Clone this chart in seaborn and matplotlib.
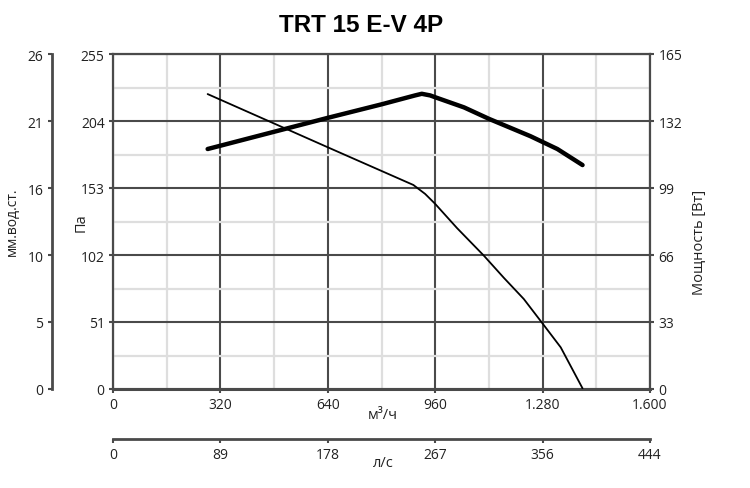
import numpy as np
import pandas as pd
import matplotlib
matplotlib.use("Agg")
import matplotlib.pyplot as plt
import seaborn as sns

# curves
flow_pa = [282, 646, 895, 930, 960, 1025, 1105, 1165, 1224, 1281, 1334, 1399]
pressure_pa = [224.5, 183.3, 155.3, 148.5, 140.9, 122.5, 101.5, 84.5, 68.5, 49.5, 31.7, 0.5]

flow_w = [282, 641, 800, 900, 920, 945, 960, 1046, 1121, 1244, 1324, 1399]
power_w = [118.2, 133.6, 140.2, 144.6, 145.4, 144.6, 143.7, 138.7, 133.0, 124.5, 118.2, 110.3]

flow_ticks = [0, 320, 640, 960, 1280, 1600]
flow_labels = ["0", "320", "640", "960", "1.280", "1.600"]
pa_ticks = [0, 51, 102, 153, 204, 255]
power_ticks = [0, 33, 66, 99, 132, 165]
mm_labels = ["0", "5", "10", "16", "21", "26"]
ls_labels = ["0", "89", "178", "267", "356", "444"]

sns.set_style("white")
plt.rcParams['font.family'] = ['Open Sans', 'DejaVu Sans']

dark = "#4a4a4a"
light = "#dedede"
txt = "#222222"

fig = plt.figure(figsize=(7.5, 4.89), dpi=100)
ax = fig.add_axes([113 / 750, 99 / 489, 537 / 750, 335 / 489])

df_p = pd.DataFrame({"flow": flow_pa, "pa": pressure_pa})
df_w = pd.DataFrame({"flow": flow_w, "w": power_w})

ax.set_xlim(0, 1600)
ax.set_ylim(0, 255)
ax.set_xticks(flow_ticks)
ax.set_xticklabels(flow_labels)
ax.set_xticks(np.arange(160, 1600, 320), minor=True)
ax.set_yticks(pa_ticks)
ax.set_yticks(np.arange(25.5, 255, 51), minor=True)
ax.grid(which="minor", color=light, lw=1.6, zorder=0)
ax.grid(which="major", color=dark, lw=1.5, zorder=1)
ax.set_axisbelow(True)
for s in ax.spines.values():
    s.set_color(dark)
    s.set_linewidth(1.6)
ax.spines["bottom"].set_linewidth(2.2)
ax.tick_params(which="major", direction="out", length=3, width=1.5, color=dark,
               labelsize=10, labelcolor=txt, pad=3)
ax.tick_params(which="minor", length=0)

sns.lineplot(data=df_p, x="flow", y="pa", ax=ax, color="black", lw=1.3, zorder=5)
ax.set_xlabel("")
ax.set_ylabel("")

# power axis on the right
ax2 = ax.twinx()
ax2.set_ylim(0, 165)
ax2.set_yticks(power_ticks)
sns.lineplot(data=df_w, x="flow", y="w", ax=ax2, color="black", lw=3.2, zorder=5)
ax2.set_xlabel("")
ax2.set_ylabel("")
for s in ax2.spines.values():
    s.set_visible(False)
ax2.tick_params(direction="out", length=3, width=1.5, color=dark,
                labelsize=10, labelcolor=txt, pad=3)

# mm water column axis far left
ax3 = ax.twinx()
ax3.yaxis.tick_left()
ax3.set_ylim(0, 255 / 9.80665)
ax3.set_yticks(np.array(pa_ticks) / 9.80665)
ax3.set_yticklabels(mm_labels)
for k, s in ax3.spines.items():
    s.set_visible(k == "left")
ax3.spines["left"].set_position(("outward", 44))
ax3.spines["left"].set_color(dark)
ax3.spines["left"].set_linewidth(2)
ax3.tick_params(direction="out", length=3, width=1.5, color=dark,
                labelsize=10, labelcolor=txt, pad=3)

# l/s axis below
ax4 = ax.twiny()
ax4.xaxis.tick_bottom()
ax4.set_xlim(0, 1600 / 3.6)
ax4.set_xticks(np.array(flow_ticks) / 3.6)
ax4.set_xticklabels(ls_labels)
for k, s in ax4.spines.items():
    s.set_visible(k == "bottom")
ax4.spines["bottom"].set_position(("outward", 36))
ax4.spines["bottom"].set_color(dark)
ax4.spines["bottom"].set_linewidth(2)
ax4.tick_params(direction="out", length=3, width=1.5, color=dark,
                labelsize=10, labelcolor=txt, pad=3)

fig.text(361 / 750, 1 - 25 / 489, "TRT 15 E-V 4P", ha="center", va="center", color="black",
         fontsize=17.5, fontweight="bold", family=["Liberation Sans", "DejaVu Sans"])
fig.text(383 / 750, 1 - 416 / 489, "м³/ч", ha="center", va="center", fontsize=10.5, color=txt)
fig.text(383 / 750, 1 - 464 / 489, "л/с", ha="center", va="center", fontsize=10.5, color=txt)
fig.text(81 / 750, 1 - 223 / 489, "Па", ha="center", va="center", rotation=90, fontsize=10.5, color=txt)
fig.text(12 / 750, 1 - 222 / 489, "мм.вод.ст.", ha="center", va="center", rotation=90, fontsize=10, color=txt)
fig.text(700 / 750, 1 - 242 / 489, "Мощность [Вт]", ha="center", va="center", rotation=90, fontsize=10.5, color=txt)

fig.savefig("out.png", dpi=100)
